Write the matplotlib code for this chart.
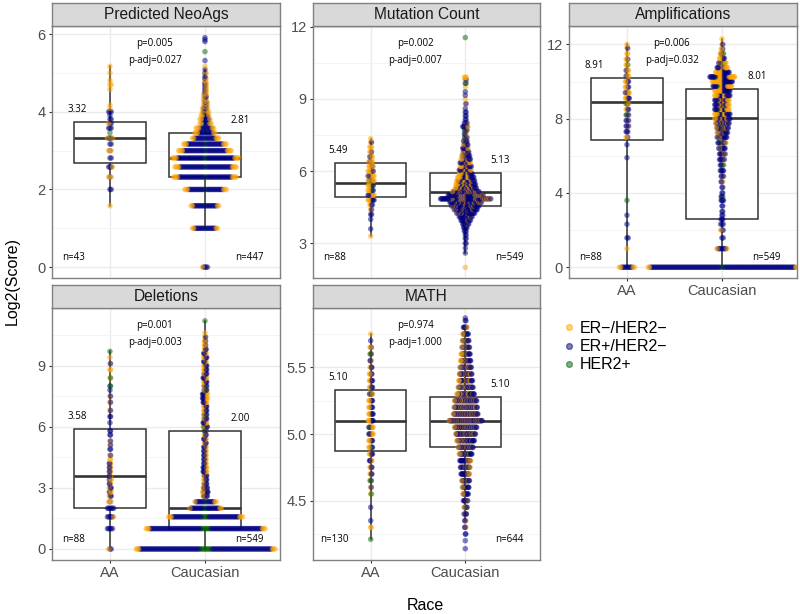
import numpy as np
import matplotlib
matplotlib.use('Agg')
import matplotlib.pyplot as plt
from matplotlib.lines import Line2D

plt.rcParams['font.family'] = ['Liberation Sans', 'DejaVu Sans']

# ---------------- data ----------------
panels = ['Predicted NeoAgs', 'Mutation Count', 'Amplifications', 'Deletions', 'MATH']
races = ['AA', 'Caucasian']
subtypes = ['ER\u2212/HER2\u2212', 'ER+/HER2\u2212', 'HER2+']
colors = ['orange', 'navy', 'darkgreen']

# per group: levels (log2 score), total count, ER-/HER2- count, HER2+ count
neo_aa_lv = [1.58, 2.0, 2.32, 2.58, 2.81, 3.0, 3.17, 3.32, 3.46, 3.58, 3.70, 3.81, 3.91, 4.0, 4.09, 4.17, 4.58, 4.70, 4.81, 5.0, 5.17]
neo_aa_n = [1, 2, 3, 4, 2, 3, 2, 5, 1, 3, 3, 2, 1, 3, 1, 1, 1, 2, 1, 1, 1]
neo_aa_o = [1, 0, 2, 1, 0, 2, 0, 2, 0, 0, 1, 0, 0, 0, 1, 1, 1, 2, 1, 1, 1]
neo_aa_g = [0, 0, 0, 0, 0, 0, 0, 1, 1, 0, 0, 0, 0, 0, 0, 0, 0, 0, 0, 0, 0]

neo_cau_lv = [0, 1, 1.58, 2, 2.32, 2.58, 2.81, 3, 3.17, 3.32, 3.46, 3.58, 3.70, 3.81, 3.91, 4.0, 4.09, 4.17, 4.25,
              4.32, 4.39, 4.46, 4.52, 4.58, 4.64, 4.70, 4.75, 4.81, 4.86, 4.91, 5.0, 5.09, 5.17, 5.32, 5.55, 5.81, 5.86, 5.91]
neo_cau_n = [5, 21, 23, 34, 51, 50, 54, 43, 35, 22, 17, 15, 10, 9, 7, 6, 5, 4, 4,
             3, 3, 3, 2, 2, 2, 2, 2, 1, 2, 1, 2, 1, 1, 1, 1, 1, 1, 1]
neo_cau_o = [1, 4, 4, 6, 8, 8, 8, 8, 6, 5, 5, 5, 4, 3, 3, 3, 2, 2, 2,
             2, 1, 2, 1, 1, 1, 1, 1, 1, 1, 0, 1, 0, 1, 0, 0, 0, 0, 0]
neo_cau_g = [0, 1, 1, 2, 2, 2, 3, 2, 2, 1, 1, 1, 1, 1, 0, 1, 0, 0, 0,
             0, 0, 0, 0, 0, 0, 0, 0, 0, 0, 0, 0, 0, 0, 0, 1, 0, 0, 0]

mut_aa_lv = [3.3, 3.6, 4.0, 4.2, 4.4, 4.6, 4.8, 5.0, 5.2, 5.4, 5.6, 5.8, 6.0, 6.2, 6.4, 6.6, 6.8, 7.0, 7.2, 7.35]
mut_aa_n = [1, 1, 1, 2, 2, 4, 8, 8, 7, 7, 8, 8, 7, 6, 5, 4, 3, 3, 2, 1]
mut_aa_o = [1, 0, 0, 0, 1, 2, 4, 5, 4, 4, 6, 6, 5, 5, 4, 3, 2, 3, 1, 1]
mut_aa_g = [0, 0, 0, 0, 0, 0, 0, 0, 1, 1, 1, 0, 0, 0, 0, 0, 0, 0, 0, 0]

mut_cau_lv = [2.0, 2.6, 2.8, 3.0, 3.2, 3.35, 3.5, 3.65, 3.8, 3.95, 4.1, 4.25, 4.4, 4.55, 4.7, 4.85, 5.0, 5.15, 5.3, 5.45,
              5.6, 5.75, 5.9, 6.05, 6.2, 6.35, 6.5, 6.65, 6.8, 6.95, 7.1, 7.25, 7.4, 7.55, 7.7, 7.85, 8.0, 8.15, 8.3, 8.45,
              8.6, 8.8, 9.0, 9.15, 9.3, 9.5, 9.65, 9.8, 9.9, 11.55]
mut_cau_n = [1, 1, 1, 2, 2, 2, 3, 5, 8, 12, 16, 22, 28, 33, 38, 60, 42, 32, 26, 24,
             22, 20, 16, 15, 14, 13, 12, 10, 8, 7, 6, 5, 4, 3, 4, 7, 4, 2, 2, 2,
             1, 2, 1, 1, 1, 1, 2, 2, 3, 1]
mut_cau_o = [1, 0, 0, 0, 0, 0, 0, 0, 1, 1, 2, 3, 4, 6, 8, 14, 10, 10, 10, 10,
             9, 9, 7, 6, 6, 5, 5, 3, 3, 2, 2, 1, 1, 1, 1, 2, 1, 0, 0, 0,
             0, 1, 1, 0, 0, 1, 0, 1, 3, 0]
mut_cau_g = [0, 0, 0, 0, 0, 0, 0, 0, 0, 0, 0, 0, 1, 0, 1, 1, 1, 0, 0, 1,
             0, 0, 1, 0, 0, 0, 0, 0, 0, 0, 0, 0, 1, 0, 1, 0, 0, 0, 0, 0,
             0, 0, 0, 0, 0, 0, 1, 0, 0, 1]

amp_aa_lv = [0, 1.0, 1.58, 2.32, 2.8, 3.6, 5.9, 6.6, 7.0, 7.3, 7.6, 7.9, 8.2, 8.5, 8.8, 9.1, 9.4, 9.7, 10.0, 10.3,
             10.6, 10.9, 11.2, 11.5, 11.8, 12.0]
amp_aa_n = [13, 1, 2, 1, 1, 1, 1, 1, 3, 3, 4, 4, 4, 4, 4, 6, 6, 5, 5, 4, 4, 3, 3, 2, 2, 1]
amp_aa_o = [4, 1, 0, 0, 0, 0, 0, 0, 2, 0, 1, 1, 1, 2, 2, 3, 4, 3, 3, 3, 3, 2, 2, 2, 1, 1]
amp_aa_g = [0, 0, 0, 0, 0, 1, 0, 0, 0, 0, 0, 0, 1, 0, 1, 0, 0, 0, 0, 0, 0, 1, 0, 0, 0, 0]

amp_cau_lv = [0, 1.0, 1.58, 2.0, 2.32, 2.58, 2.8, 3.0, 3.3, 3.6, 3.8, 4.0, 4.3, 4.6, 4.9, 5.2, 5.5, 5.8, 6.1, 6.4,
              6.7, 7.0, 7.25, 7.5, 7.75, 8.0, 8.25, 8.5, 8.75, 9.0, 9.25, 9.5, 9.75, 10.0, 10.25, 10.5, 10.75, 11.0,
              11.25, 11.5, 11.75, 12.0, 12.3]
amp_cau_n = [120, 9, 2, 3, 3, 3, 2, 2, 2, 4, 3, 2, 2, 3, 4, 5, 5, 7, 8, 9,
             11, 13, 14, 16, 18, 20, 20, 19, 19, 19, 20, 20, 24, 26, 32, 18, 14, 10,
             7, 5, 3, 2, 1]
amp_cau_o = [4, 2, 0, 1, 0, 0, 0, 0, 0, 0, 0, 0, 0, 1, 1, 0, 1, 1, 2, 2,
             3, 3, 4, 5, 6, 8, 9, 9, 8, 8, 9, 10, 12, 13, 16, 9, 8, 6,
             4, 3, 2, 1, 1]
amp_cau_g = [3, 0, 0, 0, 0, 0, 0, 0, 0, 0, 1, 0, 0, 0, 0, 0, 1, 0, 0, 0,
             1, 0, 0, 1, 0, 0, 1, 1, 0, 0, 0, 0, 1, 0, 1, 0, 0, 1,
             0, 1, 0, 0, 0]

del_aa_lv = [0, 1.0, 1.58, 2.0, 2.32, 2.6, 2.8, 3.0, 3.2, 3.4, 3.58, 3.8, 4.0, 4.2, 4.4, 4.6, 4.9, 5.1, 5.3, 5.6,
             5.8, 6.2, 6.5, 6.8, 7.2, 7.5, 7.8, 8.0, 8.4, 8.8, 9.1, 9.4, 9.7]
del_aa_n = [3, 5, 6, 6, 3, 4, 4, 4, 3, 4, 3, 3, 3, 3, 2, 2, 2, 2, 2, 2, 2, 1, 2, 2, 2, 2, 1, 2, 2, 2, 2, 1, 1]
del_aa_o = [1, 0, 1, 0, 2, 2, 3, 2, 1, 3, 1, 1, 1, 1, 2, 1, 0, 1, 1, 0, 0, 0, 0, 1, 1, 1, 0, 0, 1, 2, 1, 1, 0]
del_aa_g = [0, 0, 0, 0, 0, 0, 0, 0, 0, 0, 0, 0, 0, 0, 0, 0, 0, 0, 0, 0, 0, 0, 0, 0, 0, 0, 0, 1, 1, 0, 0, 0, 1]

del_cau_lv = [0, 1.0, 1.58, 2.0, 2.32, 2.6, 2.8, 3.0, 3.2, 3.4, 3.6, 3.8, 4.0, 4.2, 4.4, 4.6, 4.8, 5.0, 5.2, 5.4,
              5.6, 5.8, 6.0, 6.2, 6.4, 6.6, 6.8, 7.0, 7.2, 7.4, 7.6, 7.8, 8.0, 8.2, 8.4, 8.6, 8.8, 9.0, 9.2, 9.4,
              9.6, 9.8, 10.0, 10.2, 10.4, 10.6, 11.2]
del_cau_n = [112, 96, 60, 26, 18, 8, 10, 8, 6, 6, 6, 7, 7, 5, 5, 5, 5, 5, 4, 5,
             4, 4, 8, 7, 6, 6, 6, 6, 7, 9, 9, 6, 6, 6, 7, 6, 6, 6, 5, 6,
             5, 4, 3, 3, 2, 1, 1]
del_cau_o = [6, 6, 6, 3, 3, 3, 4, 3, 2, 3, 2, 3, 3, 2, 2, 2, 2, 2, 2, 2,
             2, 1, 3, 3, 2, 2, 3, 3, 3, 4, 4, 2, 2, 3, 3, 2, 3, 3, 2, 3,
             2, 2, 2, 2, 1, 1, 0]
del_cau_g = [10, 8, 5, 3, 2, 0, 0, 0, 0, 0, 0, 0, 0, 0, 0, 0, 0, 0, 0, 0,
             0, 1, 1, 0, 0, 1, 0, 0, 0, 0, 0, 1, 1, 0, 0, 0, 0, 0, 0, 0,
             0, 0, 0, 0, 0, 0, 1]

math_aa_lv = [4.21, 4.3, 4.35, 4.45, 4.55, 4.6, 4.65, 4.7, 4.75, 4.8, 4.85, 4.9, 4.95, 5.0, 5.05, 5.1, 5.15, 5.2,
              5.25, 5.3, 5.35, 5.4, 5.45, 5.5, 5.55, 5.6, 5.65, 5.7, 5.75]
math_aa_n = [1, 2, 1, 1, 2, 2, 3, 4, 4, 5, 6, 7, 7, 8, 8, 9, 8, 7, 7, 6, 6, 6, 5, 4, 3, 3, 3, 1, 1]
math_aa_o = [0, 2, 0, 0, 1, 1, 1, 2, 2, 2, 3, 4, 4, 5, 5, 5, 4, 4, 4, 3, 3, 3, 3, 2, 1, 1, 2, 0, 1]
math_aa_g = [1, 0, 0, 0, 1, 0, 1, 0, 0, 0, 0, 1, 0, 0, 1, 0, 0, 0, 0, 1, 0, 0, 0, 0, 0, 1, 0, 0, 0]

math_cau_lv = [4.14, 4.2, 4.25, 4.3, 4.35, 4.4, 4.45, 4.5, 4.55, 4.6, 4.65, 4.7, 4.75, 4.8, 4.85, 4.9, 4.95, 5.0,
               5.05, 5.1, 5.15, 5.2, 5.25, 5.3, 5.35, 5.4, 5.45, 5.5, 5.55, 5.6, 5.65, 5.7, 5.75, 5.8, 5.85, 5.87]
math_cau_n = [1, 1, 2, 3, 3, 5, 6, 8, 10, 12, 14, 15, 17, 19, 22, 26, 30, 34,
              38, 56, 42, 40, 38, 30, 26, 24, 22, 20, 18, 16, 14, 12, 10, 7, 2, 1]
math_cau_o = [0, 0, 0, 1, 1, 1, 2, 2, 3, 3, 4, 4, 5, 5, 6, 8, 9, 10,
              12, 18, 14, 14, 13, 11, 9, 9, 8, 7, 7, 6, 5, 4, 3, 2, 0, 0]
math_cau_g = [0, 0, 0, 0, 0, 0, 1, 0, 0, 1, 1, 0, 1, 0, 1, 1, 0, 1,
              1, 1, 1, 1, 0, 1, 0, 1, 0, 0, 0, 1, 0, 1, 1, 0, 0, 0]

# box statistics [AA, Caucasian] per panel
box_q1 = [[2.69, 2.31], [4.91, 4.56], [6.85, 2.58], [2.00, 1.00], [4.875, 4.905]]
box_med = [[3.32, 2.81], [5.49, 5.13], [8.91, 8.01], [3.58, 2.00], [5.10, 5.10]]
box_q3 = [[3.745, 3.45], [6.32, 5.91], [10.2, 9.58], [5.89, 5.80], [5.33, 5.275]]
box_lo = [[1.58, 1.0], [3.3, 2.6], [0.0, 0.0], [0.0, 0.0], [4.21, 4.35]]
box_hi = [[5.17, 5.09], [7.35, 7.9], [12.0, 12.3], [9.7, 11.2], [5.75, 5.8]]

n_labels = [[43, 447], [88, 549], [88, 549], [88, 549], [130, 644]]
p_vals = ['p=0.005', 'p=0.002', 'p=0.006', 'p=0.001', 'p=0.974']
p_adj = ['p-adj=0.027', 'p-adj=0.007', 'p-adj=0.032', 'p-adj=0.003', 'p-adj=1.000']

groups = [
    [(neo_aa_lv, neo_aa_n, neo_aa_o, neo_aa_g), (neo_cau_lv, neo_cau_n, neo_cau_o, neo_cau_g)],
    [(mut_aa_lv, mut_aa_n, mut_aa_o, mut_aa_g), (mut_cau_lv, mut_cau_n, mut_cau_o, mut_cau_g)],
    [(amp_aa_lv, amp_aa_n, amp_aa_o, amp_aa_g), (amp_cau_lv, amp_cau_n, amp_cau_o, amp_cau_g)],
    [(del_aa_lv, del_aa_n, del_aa_o, del_aa_g), (del_cau_lv, del_cau_n, del_cau_o, del_cau_g)],
    [(math_aa_lv, math_aa_n, math_aa_o, math_aa_g), (math_cau_lv, math_cau_n, math_cau_o, math_cau_g)],
]

# ---------------- layout ----------------
W, H = 800, 614
panel_px = [(52, 26, 280, 278), (313, 26, 540, 278), (569, 26, 797, 278),
            (52, 308, 280, 560), (313, 308, 540, 560)]
ylims = [(-0.28, 6.21), (1.56, 12.03), (-0.58, 12.99), (-0.54, 11.83), (4.055, 5.945)]
yticks = [[0, 2, 4, 6], [3, 6, 9, 12], [0, 4, 8, 12], [0, 3, 6, 9], [4.5, 5.0, 5.5]]
yminor = [[1, 3, 5], [4.5, 7.5, 10.5], [2, 6, 10], [1.5, 4.5, 7.5, 10.5], [4.25, 4.75, 5.25, 5.75]]
ytick_fmt = ['{:.0f}', '{:.0f}', '{:.0f}', '{:.0f}', '{:.1f}']
# rows at or below disc_max are stacked rows (sorted by subtype); above they are mixed
disc_max = [9.0, -1, 2.4, 2.4, -1]
disc_gap = 1.25     # px between neighbouring points in a stacked row
cont_gap = [1.25, 0.85, 0.8, 0.6, 0.6]
XLIM = (0.39, 2.79)


def rect(x0, y0, x1, y1):
    return [x0 / W, 1 - y1 / H, (x1 - x0) / W, (y1 - y0) / H]


def row_order(g, b, o, mixed):
    if not mixed:
        return [2] * g + [1] * b + [0] * o
    keys = []
    for c, cnt in ((2, g), (1, b), (0, o)):
        keys += [((j + 0.5) / cnt, c) for j in range(cnt)]
    keys.sort()
    return [c for _, c in keys]


def layout(lv, n, o, g, dmax, cgap):
    vals, cls, offs = [], [], []
    for v, ni, oi, gi in zip(lv, n, o, g):
        bi = max(ni - oi - gi, 0)
        mixed = v > dmax
        gap = cgap if mixed else disc_gap
        order = row_order(gi, bi, oi, mixed)
        for j, c in enumerate(order):
            step = (j + 1) // 2
            offs.append(step * gap * (1 if j % 2 else -1))
            vals.append(v)
            cls.append(c)
    return np.array(vals, float), np.array(cls), np.array(offs)


fig = plt.figure(figsize=(8, 6.14), dpi=100)

for i, name in enumerate(panels):
    x0, y0, x1, y1 = panel_px[i]
    ax = fig.add_axes(rect(x0, y0, x1, y1))
    ax.set_xlim(*XLIM)
    ax.set_ylim(*ylims[i])
    ax.set_axisbelow(True)

    # boxplots
    stats = []
    for k in range(2):
        stats.append(dict(med=box_med[i][k], q1=box_q1[i][k], q3=box_q3[i][k],
                          whislo=box_lo[i][k], whishi=box_hi[i][k], fliers=[]))
    ax.bxp(stats, positions=[1, 2], widths=0.75, showfliers=False, showcaps=False,
           patch_artist=True, zorder=1, manage_ticks=False,
           boxprops=dict(facecolor='white', edgecolor='#333333', lw=1.1),
           whiskerprops=dict(color='#333333', lw=1.1),
           medianprops=dict(color='#333333', lw=1.9))

    ax.set_xticks([1, 2])
    ax.set_yticks(yticks[i])
    ax.set_yticklabels([ytick_fmt[i].format(t) for t in yticks[i]])
    ax.set_yticks(yminor[i], minor=True)
    ax.grid(which='major', color='#EBEBEB', lw=1.0)
    ax.grid(which='minor', axis='y', color='#F3F3F3', lw=0.6)
    ax.tick_params(which='minor', length=0)
    ax.tick_params(which='major', length=2.5, width=0.8, color='#333333',
                   labelsize=10.5, labelcolor='#4D4D4D', pad=2)
    if i in (2, 3, 4):
        ax.set_xticklabels(races)
    else:
        ax.tick_params(axis='x', length=0, labelbottom=False)
    for sp in ax.spines.values():
        sp.set_color('#808080')
        sp.set_linewidth(1.0)

    # beeswarm points
    px_per_x = (x1 - x0) / (XLIM[1] - XLIM[0])
    for k in range(2):
        vals, cls, offs = layout(*groups[i][k], disc_max[i], cont_gap[i])
        cols = [colors[c] for c in cls]
        ax.scatter(k + 1 + offs / px_per_x, vals, s=16, c=cols, alpha=0.5,
                   linewidths=0, zorder=2)

    # annotations
    tr = ax.get_xaxis_transform()
    ax.text(1.47, 0.932, p_vals[i], transform=tr, ha='center', va='center',
            fontsize=7, family='Open Sans', zorder=3)
    ax.text(1.47, 0.863, p_adj[i], transform=tr, ha='center', va='center',
            fontsize=7, family='Open Sans', zorder=3)
    for k, xl in enumerate([0.66, 2.37]):
        ax.annotate('{:.2f}'.format(box_med[i][k]), xy=(xl, box_q3[i][k]), xytext=(0, 9),
                    textcoords='offset points', ha='center', va='center',
                    fontsize=7, family='Open Sans', zorder=3)
    for k, xl in enumerate([0.62, 2.47]):
        ax.text(xl, 0.08, 'n={}'.format(n_labels[i][k]), transform=tr, ha='center',
                va='center', fontsize=7, family='Open Sans', zorder=3)

    # facet strip
    sax = fig.add_axes(rect(x0, y0 - 23, x1, y0))
    sax.set_facecolor('#D9D9D9')
    sax.set_xticks([])
    sax.set_yticks([])
    for sp in sax.spines.values():
        sp.set_color('#808080')
        sp.set_linewidth(1.0)
    sax.text(0.5, 0.48, name, ha='center', va='center', fontsize=11.2, color='#1A1A1A')

fig.text(12 / W, 1 - 281 / H, 'Log2(Score)', rotation=90, ha='center', va='center', fontsize=11.5)
fig.text(425 / W, 1 - 605 / H, 'Race', ha='center', va='center', fontsize=11.5)

handles = [Line2D([], [], marker='o', ls='', color=c, alpha=0.5, markersize=4.2) for c in colors]
fig.legend(handles, subtypes, loc='upper left', bbox_to_anchor=(563 / W, 1 - 321 / H),
           frameon=False, fontsize=11.5, handlelength=0.7, handletextpad=0.35,
           labelspacing=0.2, borderpad=0, borderaxespad=0)

fig.savefig('out.png', dpi=100)
